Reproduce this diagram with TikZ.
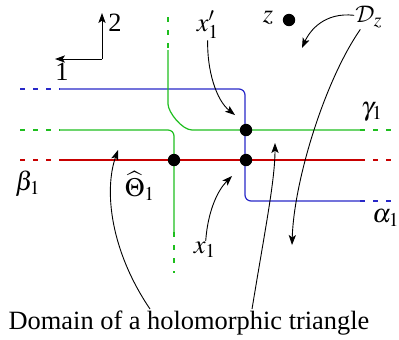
\documentclass[tikz,border=0pt]{standalone}
\usepackage{mathptmx}
\usepackage{fontspec}
\setmainfont{Liberation Serif}
\DeclareMathAlphabet{\mathcmcal}{OMS}{cmsy}{m}{n}
\usetikzlibrary{arrows.meta,calc}
\definecolor{alphablue}{RGB}{40,40,200}
\definecolor{gammagreen}{RGB}{30,190,30}
\definecolor{betared}{RGB}{200,0,0}

\begin{document}
\begin{tikzpicture}[x=0.5pt, y=-0.5pt, font=\fontsize{13.2}{15}\selectfont]
    % Define styles
    \tikzstyle{curveline} = [line width=0.6pt]
    \tikzstyle{tail} = [line width=0.6pt, dash pattern=on 2.5pt off 4pt]
    \tikzstyle{dot} = [circle, fill=black, inner sep=0pt, minimum size=6.2pt]
    \tikzstyle{lbl} = [inner sep=0.5pt]
    \tikzstyle{pointer} = [draw, line width=0.45pt, -{Stealth[length=5pt, width=3.6pt, inset=1.2pt]}]

    \useasboundingbox (0,0) rectangle (399,339);

    % Axes
    \coordinate (origin) at (102,59);
    \coordinate (up) at (102,13);
    \coordinate (left) at (55,59);
    \draw [pointer] (origin) -- (up);
    \draw [pointer] (origin) -- (left);
    \node [lbl] (two) at (115,23) {2};
    \node [lbl] (one) at (62,72) {1};

    % Blue curve
    \draw [alphablue, tail] (20,89) -- (60,89);
    \draw [alphablue, curveline, rounded corners=3pt] (60,89) -- (245,89) -- (245,201) -- (360,201);
    \draw [alphablue, tail] (360,201) -- (399,201);

    % Green curves
    \draw [gammagreen, tail] (168,17) -- (168,50);
    \draw [gammagreen, curveline] (168,50) -- (168,104) .. controls (168,112) and (182,130) .. (192,130) -- (360,130);
    \draw [gammagreen, tail] (360,130) -- (399,130);
    \draw [gammagreen, tail] (20,130) -- (60,130);
    \draw [gammagreen, curveline, rounded corners=3pt] (60,130) -- (174,130) -- (174,232);
    \draw [gammagreen, tail] (174,232) -- (174,273);

    % Red curve
    \draw [betared, tail] (20,160) -- (60,160);
    \draw [betared, curveline] (60,160) -- (360,160);
    \draw [betared, tail] (360,160) -- (399,160);

    % Intersection points
    \node [dot] (theta) at (174,160) {};
    \node [dot] (xprime) at (246,130) {};
    \node [dot] (xone) at (246,160) {};
    \node [dot] (zdot) at (289,20) {};

    % Labels
    \node [lbl] (zlabel) at (268,18) {$z$};
    \node [lbl] (dlabel) at (369,17) {$\mathcmcal{D}_z$};
    \node [lbl] (xplabel) at (208,25) {$x_1'$};
    \node [lbl] (xlabel) at (205,250) {$x_1$};
    \node [lbl] (thlabel) at (140,186) {$\widehat{\Theta}_1$};
    \node [lbl] (gamlabel) at (372,112) {$\gamma_1$};
    \node [lbl] (betlabel) at (28,184) {$\beta_1$};
    \node [lbl] (alplabel) at (386,218) {$\alpha_1$};
    \node [lbl, anchor=base] (domain) at (189,329) {Domain of a holomorphic triangle};

    % Pointers
    \coordinate (xptip) at (235,115);
    \coordinate (xtip) at (232,176);
    \coordinate (dtipa) at (302,48);
    \coordinate (dtipb) at (292,245);
    \coordinate (domtipa) at (118,150);
    \coordinate (domtipb) at (275,143);
    \path [pointer] (xplabel) .. controls (207,70) and (216,100) .. (xptip);
    \path [pointer] (xlabel) .. controls (208,210) and (218,190) .. (xtip);
    \path [pointer] (dlabel) .. controls (325,12) and (310,30) .. (dtipa);
    \path [pointer] (dlabel) .. controls (325,80) and (294,180) .. (dtipb);
    \path [pointer] ($(domain.north)+(-39,0)$) .. controls (110,250) and (104,190) .. (domtipa);
    \path [pointer] ($(domain.north)+(63,0)$) .. controls (265,230) and (275,180) .. (domtipb);
\end{tikzpicture}
\end{document}
